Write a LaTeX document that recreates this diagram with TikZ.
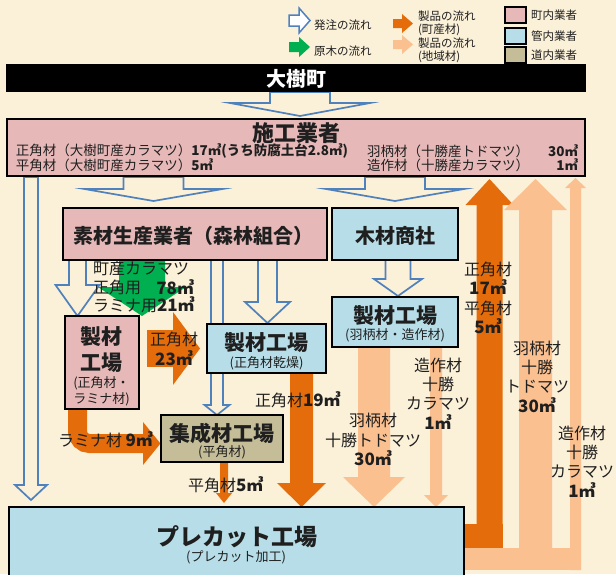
\documentclass[tikz,border=0pt]{standalone}
\usepackage{fontspec}
\setmainfont{Noto Sans CJK JP}
\definecolor{bgc}{HTML}{FBF0D8}
\definecolor{pinkc}{HTML}{E6B9B8}
\definecolor{bluec}{HTML}{B7DEE8}
\definecolor{tanc}{HTML}{C4BD97}
\definecolor{dor}{HTML}{E46C0A}
\definecolor{lor}{HTML}{FAC090}
\definecolor{grn}{HTML}{00B050}
\definecolor{ablue}{HTML}{4F81BD}
% style, cx, top, shaft half, head half, head base y, tip y
\newcommand\blkarrow[7]{\path[#1] ({#2-#4},#3) -- ({#2+#4},#3) -- ({#2+#4},#6) -- ({#2+#5},#6) -- (#2,#7) -- ({#2-#5},#6) -- ({#2-#4},#6) -- cycle;}
\newcommand\numb[1]{{\fontsize{17}{19}\selectfont\bfseries #1}}
\tikzset{
  box/.style={draw=black, line width=1.3pt, inner sep=0pt, outer sep=0pt, anchor=north west},
  hol/.style={draw=ablue, line width=1.7pt, line join=miter, miter limit=20},
  txt/.style={inner sep=0pt, outer sep=0pt, text=black!88},
  big/.style={txt, font=\fontsize{21}{22}\selectfont\bfseries},
  sml/.style={txt, font=\fontsize{13}{14}\selectfont},
  lbl/.style={txt, font=\fontsize{16}{19.4}\selectfont, align=center},
  leg/.style={txt, font=\fontsize{11.5}{14}\selectfont, anchor=west},
  row/.style={txt, font=\fontsize{13.5}{15}\selectfont, anchor=west},
}
\begin{document}
\begin{tikzpicture}[x=1pt,y=-1pt]
\useasboundingbox (0,0) rectangle (616,574);
\clip (0,0) rectangle (616,574);
\fill[bgc] (0,0) rectangle (616,574);

% ---------- legend ----------
\path[hol, line width=1.5pt, fill=white] (289,15) -- (299,15) -- (299,8) -- (310,20.5) -- (299,33) -- (299,26) -- (289,26) -- cycle;
\fill[grn] (289,42) -- (299,42) -- (299,37) -- (310,47) -- (299,57) -- (299,52) -- (289,52) -- cycle;
\fill[dor] (393,19) -- (402,19) -- (402,14) -- (413,23.5) -- (402,33) -- (402,28) -- (393,28) -- cycle;
\fill[lor] (393,40) -- (402,40) -- (402,35) -- (413,44.5) -- (402,54) -- (402,49) -- (393,49) -- cycle;
\node[leg] (l1) at (314,25) {発注の流れ};
\node[leg] (l2) at (314,51) {原木の流れ};
\node[leg] (l3) at (418,16) {製品の流れ};
\node[leg] (l4) at (418,30) {(町産材)};
\node[leg] (l5) at (418,43) {製品の流れ};
\node[leg] (l6) at (418,57) {(地域材)};
\node[box, fill=pinkc, minimum width=21pt, minimum height=16pt] (lg1) at (505,7) {};
\node[box, fill=bluec, minimum width=21pt, minimum height=16pt] (lg2) at (505,28) {};
\node[box, fill=tanc, minimum width=21pt, minimum height=16pt] (lg3) at (505,47) {};
\node[leg] (t1) at (531,15.5) {町内業者};
\node[leg] (t2) at (531,36) {管内業者};
\node[leg] (t3) at (531,55) {道内業者};

% ---------- order arrows (hollow) ----------
\blkarrow{hol}{300}{92}{30}{70}{103}{116}
\blkarrow{hol}{153.5}{177}{30}{69}{189}{201}
\blkarrow{hol}{395}{177}{30}{69}{189}{201}
\blkarrow{hol}{31}{177}{7}{16}{485}{500}
\blkarrow{hol}{77.5}{260}{8.5}{22}{285}{316}
\blkarrow{hol}{217}{260}{6}{12.5}{405}{415}
\blkarrow{hol}{267.5}{260}{9.5}{22.5}{302}{323}
\blkarrow{hol}{398}{260}{12.5}{24}{279}{296}

% ---------- log flow ----------
\blkarrow{fill=grn}{142}{260}{23}{44}{287}{316}

% ---------- product flow (town) ----------
\fill[dor] (147,330) rectangle (173.5,367);
\fill[dor] (173,312) -- (200,348.5) -- (173,385) -- cycle;
\blkarrow{fill=dor}{301.5}{373}{11.5}{24.5}{483}{507}
\draw[dor, line width=19pt, rounded corners=12pt] (77.5,409) |- (144,443.5);
\fill[dor] (143,422) -- (160.5,443.5) -- (143,465) -- cycle;
\blkarrow{fill=dor}{224}{462}{4}{8}{493}{503}
\fill[dor] (464,524) rectangle (502.5,548);
\blkarrow{fill=dor}{489.5}{548}{13}{24}{205}{179}

% ---------- product flow (region) ----------
\fill[lor] (464,548) rectangle (581,570);
\blkarrow{fill=lor}{535.5}{548}{16.5}{31.5}{210}{179}
\blkarrow{fill=lor}{575.5}{570}{5.5}{10.5}{188}{178}
\blkarrow{fill=lor}{374}{347}{16}{31}{477}{507}
\blkarrow{fill=lor}{436}{347}{6}{12}{495}{507}

% ---------- boxes ----------
\node[box, fill=black, minimum width=578pt, minimum height=26pt] (town) at (7,65) {};
\node[box, fill=pinkc, minimum width=578pt, minimum height=57pt] (sekou) at (7,119) {};
\node[box, fill=pinkc, minimum width=264pt, minimum height=52pt] (sozai) at (63,208) {};
\node[box, fill=bluec, minimum width=126pt, minimum height=52pt] (shosha) at (332,208) {};
\node[box, fill=pinkc, minimum width=74pt, minimum height=93pt] (seizaiL) at (65,316) {};
\node[box, fill=bluec, minimum width=119pt, minimum height=49pt] (seizaiC) at (207,324) {};
\node[box, fill=bluec, minimum width=126pt, minimum height=50pt] (seizaiR) at (332,297) {};
\node[box, fill=tanc, minimum width=122pt, minimum height=47pt] (shusei) at (161,415) {};
\node[box, fill=bluec, minimum width=455pt, minimum height=80pt] (precut) at (9,507) {};

% ---------- box texts ----------
\node[txt, text=white, font=\fontsize{20}{22}\selectfont\bfseries] (townT) at (296,79) {大樹町};
\node[txt, font=\fontsize{22}{23}\selectfont\bfseries] (sekouT) at (296,133) {施工業者};
\node[row] (r1) at (16,151) {正角材（大樹町産カラマツ）{\bfseries 17㎥(うち防腐土台2.8㎥)}};
\node[row] (r2) at (16,165) {平角材（大樹町産カラマツ）{\bfseries 5㎥}};
\node[row] (r3) at (367,151) {羽柄材（十勝産トドマツ）};
\node[row] (r4) at (367,165) {造作材（十勝産カラマツ）};
\node[row, anchor=east] (r5) at (578,151) {\bfseries 30㎥};
\node[row, anchor=east] (r6) at (578,165) {\bfseries 1㎥};
\node[big, font=\fontsize{20}{22}\selectfont\bfseries] (sozaiT) at (193,236) {素材生産業者（森林組合）};
\node[big, font=\fontsize{20}{22}\selectfont\bfseries] (shoshaT) at (395,236) {木材商社};
\node[big] (sLa) at (101.5,337) {製材};
\node[big] (sLb) at (101.5,363) {工場};
\node[sml] (sLc) at (101.5,383) {(正角材・};
\node[sml] (sLd) at (101.5,399) {ラミナ材)};
\node[big] (sCa) at (266.5,343) {製材工場};
\node[sml] (sCb) at (266.5,363) {(正角材乾燥)};
\node[big] (sRa) at (395,316) {製材工場};
\node[sml] (sRb) at (395,335) {(羽柄材・造作材)};
\node[big] (shT) at (222,433) {集成材工場};
\node[sml] (shS) at (222,452) {(平角材)};
\node[txt, font=\fontsize{23}{25}\selectfont\bfseries] (pcT) at (237,537) {プレカット工場};
\node[sml] (pcS) at (236,557) {(プレカット加工)};

% ---------- arrow labels ----------
\node[lbl, anchor=west] (g1) at (93,268) {町産カラマツ};
\node[lbl, anchor=west] (g2) at (93,287) {正角用};
\node[lbl, anchor=east] (g3) at (194,287) {\numb{78㎥}};
\node[lbl, anchor=west] (g4) at (93,305) {ラミナ用\numb{21㎥}};
\node[lbl] (o23) at (174,349) {正角材\\\numb{23㎥}};
\node[lbl, anchor=west] (o19) at (255,400) {正角材\numb{19㎥}};
\node[lbl, anchor=west] (o9) at (58,440) {ラミナ材 \numb{9㎥}};
\node[lbl, anchor=west] (o5) at (188,485) {平角材\numb{5㎥}};
\node[lbl] (o17) at (488,298) {正角材\\\numb{17㎥}\\平角材\\\numb{5㎥}};
\node[lbl] (lw1) at (537,376.5) {羽柄材\\十勝\\トドマツ\\\numb{30㎥}};
\node[lbl] (lw2) at (582,461.5) {造作材\\十勝\\カラマツ\\\numb{1㎥}};
\node[lbl] (ld1) at (373,439.5) {羽柄材\\十勝トドマツ\\\numb{30㎥}};
\node[lbl] (ld2) at (438,393.5) {造作材\\十勝\\カラマツ\\\numb{1㎥}};
\end{tikzpicture}
\end{document}
